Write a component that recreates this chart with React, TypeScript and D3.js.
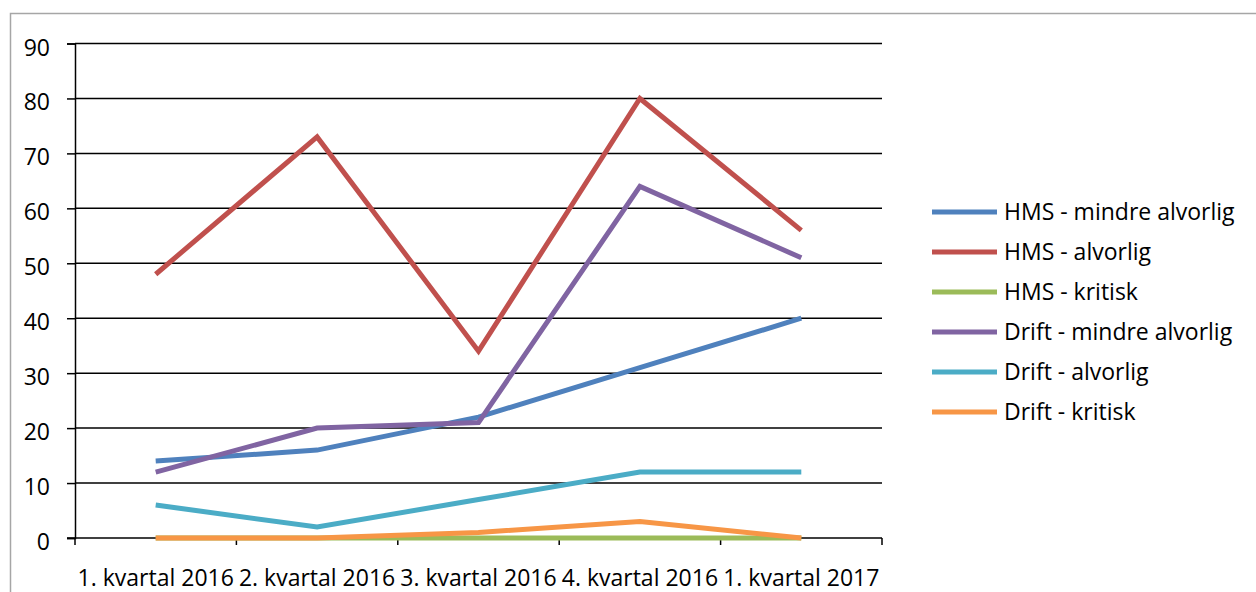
import { useRef, useEffect } from "react";
import * as d3 from "d3";

const categories = [
  "1. kvartal 2016",
  "2. kvartal 2016",
  "3. kvartal 2016",
  "4. kvartal 2016",
  "1. kvartal 2017",
];

const seriesNames = [
  "HMS - mindre alvorlig",
  "HMS - alvorlig",
  "HMS - kritisk",
  "Drift - mindre alvorlig",
  "Drift - alvorlig",
  "Drift - kritisk",
];

const hmsMindre = [14, 16, 22, 31, 40];
const hmsAlvorlig = [48, 73, 34, 80, 56];
const hmsKritisk = [0, 0, 0, 0, 0];
const driftMindre = [12, 20, 21, 64, 51];
const driftAlvorlig = [6, 2, 7, 12, 12];
const driftKritisk = [0, 0, 1, 3, 0];

const yTicks = [0, 10, 20, 30, 40, 50, 60, 70, 80, 90];

const colors = ["#4F81BD", "#C0504D", "#9BBB59", "#8064A2", "#4BACC6", "#F79646"];

const FONT = "'Open Sans', sans-serif";

export default function App() {
  const svgRef = useRef(null);
  const width = 1256;
  const height = 592;
  const marginLeft = 75;
  const plotRight = 882;
  const plotTop = 43.5;
  const plotBottom = 538;

  useEffect(() => {
    const svg = d3.select(svgRef.current);
    svg.selectAll("*").remove();

    const values = [hmsMindre, hmsAlvorlig, hmsKritisk, driftMindre, driftAlvorlig, driftKritisk];

    const x = d3.scaleBand().domain(categories).range([marginLeft, plotRight]);
    const y = d3.scaleLinear().domain([0, 90]).range([plotBottom, plotTop]);

    // chart border
    svg
      .append("rect")
      .attr("x", 10.5)
      .attr("y", 13.5)
      .attr("width", width + 20)
      .attr("height", height + 20)
      .attr("fill", "white")
      .attr("stroke", "#a6a6a6")
      .attr("stroke-width", 1.5);

    // gridlines
    svg
      .append("g")
      .selectAll("line")
      .data(yTicks.filter((t) => t > 0))
      .enter()
      .append("line")
      .attr("x1", marginLeft)
      .attr("x2", plotRight)
      .attr("y1", (d) => y(d))
      .attr("y2", (d) => y(d))
      .attr("stroke", "black")
      .attr("stroke-width", 1.5);

    // y axis
    const yAxis = svg
      .append("g")
      .attr("transform", "translate(" + marginLeft + ",0)")
      .call(d3.axisLeft(y).tickValues(yTicks).tickSize(8).tickPadding(17));
    yAxis.select(".domain").attr("stroke", "black").attr("stroke-width", 1.5);
    yAxis.selectAll(".tick line").attr("stroke", "black").attr("stroke-width", 1.5);
    yAxis
      .selectAll(".tick text")
      .attr("font-family", FONT)
      .attr("font-size", 23)
      .attr("fill", "black")
      .attr("dy", "0.5em");

    // x axis with ticks at category boundaries
    const xAxis = svg
      .append("g")
      .attr("transform", "translate(0," + plotBottom + ")");
    xAxis
      .append("line")
      .attr("x1", marginLeft - 8)
      .attr("x2", plotRight)
      .attr("stroke", "black")
      .attr("stroke-width", 1.5);
    const bounds = categories.map((c) => x(c)).concat([plotRight]);
    xAxis
      .selectAll("line.tk")
      .data(bounds)
      .enter()
      .append("line")
      .attr("class", "tk")
      .attr("x1", (d) => d)
      .attr("x2", (d) => d)
      .attr("y1", 0)
      .attr("y2", 7)
      .attr("stroke", "black")
      .attr("stroke-width", 1.5);
    xAxis
      .selectAll("text")
      .data(categories)
      .enter()
      .append("text")
      .attr("x", (d) => x(d) + x.bandwidth() / 2)
      .attr("y", 48)
      .attr("text-anchor", "middle")
      .attr("font-family", FONT)
      .attr("font-size", 23)
      .attr("fill", "black")
      .text((d) => d);

    // lines
    const line = d3
      .line<number>()
      .x((d, i) => x(categories[i]) + x.bandwidth() / 2)
      .y((d) => y(d));

    svg
      .append("g")
      .selectAll("path")
      .data(values)
      .enter()
      .append("path")
      .attr("d", (d) => line(d))
      .attr("fill", "none")
      .attr("stroke", (d, i) => colors[i])
      .attr("stroke-width", 5)
      .attr("stroke-linejoin", "miter");

    // legend
    const legend = svg.append("g").attr("transform", "translate(932,212)");
    const item = legend
      .selectAll("g")
      .data(seriesNames)
      .enter()
      .append("g")
      .attr("transform", (d, i) => "translate(0," + i * 40 + ")");
    item
      .append("line")
      .attr("x1", 0)
      .attr("x2", 65)
      .attr("stroke", (d, i) => colors[i])
      .attr("stroke-width", 5);
    item
      .append("text")
      .attr("x", 72)
      .attr("y", 8)
      .attr("font-family", FONT)
      .attr("font-size", 23)
      .attr("fill", "black")
      .text((d) => d);
  }, []);

  return (
    <div style={{ position: "absolute", left: 0, top: 0 }}>
      <svg ref={svgRef} width={width} height={height} style={{ display: "block" }}></svg>
    </div>
  );
}
